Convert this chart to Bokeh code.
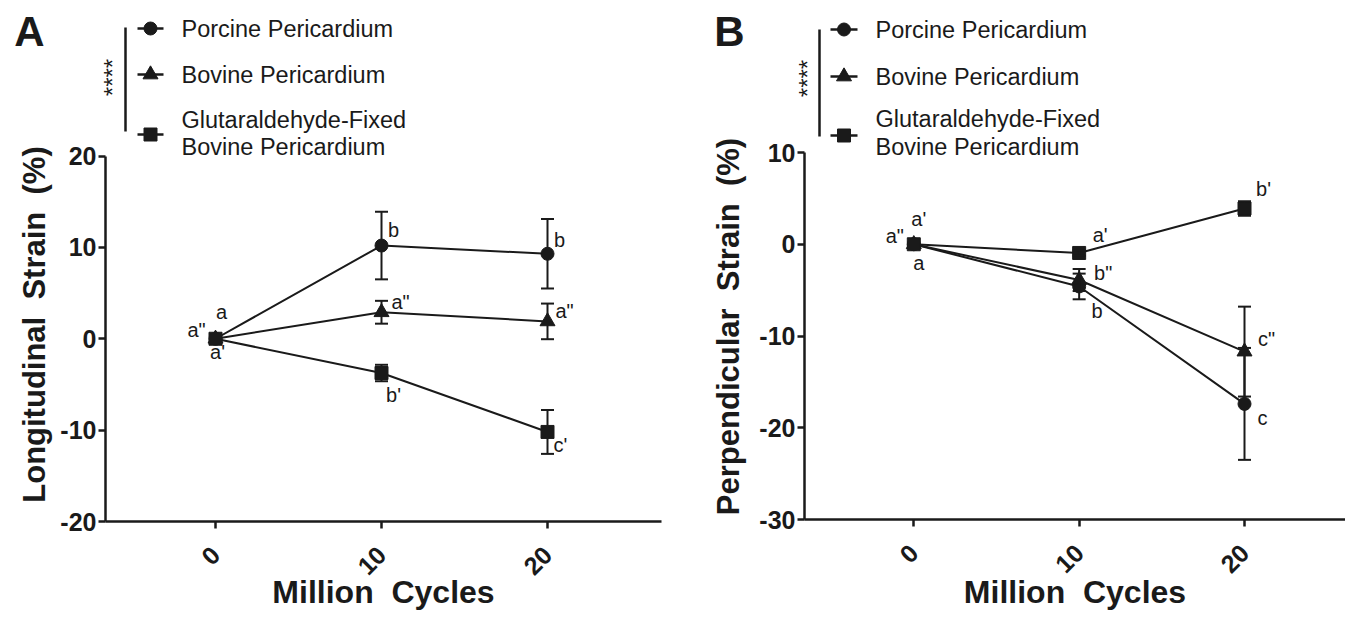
import math
from bokeh.plotting import figure
from bokeh.layouts import row
from bokeh.models import Range1d, FixedTicker, Whisker, TeeHead, ColumnDataSource, PrintfTickFormatter
from bokeh.embed import file_html
from bokeh.resources import INLINE
from bokeh.core.properties import value

# ---------------- data ----------------
cycles = [0, 10, 20]
x_ticks = [0, 10, 20]
series_names = ["Porcine Pericardium", "Bovine Pericardium", "Glutaraldehyde-Fixed", "Bovine Pericardium"]

# Panel A: longitudinal strain (%)
long_porcine = [0.0, 10.2, 9.3]
long_porcine_err = [0.0, 3.7, 3.8]
long_bovine = [0.0, 2.9, 1.9]
long_bovine_err = [0.0, 1.25, 1.95]
long_glut = [0.0, -3.75, -10.2]
long_glut_err = [0.0, 0.9, 2.4]
long_yticks = [-20, -10, 0, 10, 20]

# Panel B: perpendicular strain (%)
perp_porcine = [0.0, -4.6, -17.4]
perp_porcine_err = [0.0, 1.4, 6.1]
perp_bovine = [0.0, -3.9, -11.7]
perp_bovine_err = [0.0, 1.2, 4.9]
perp_glut = [0.0, -0.95, 3.9]
perp_glut_err = [0.0, 0.3, 0.8]
perp_yticks = [-30, -20, -10, 0, 10]

# significance letters: (series, point index, text, dx px, dy px)
long_letters = [
    ("porcine", 0, "a", 6, -27), ("bovine", 0, 'a"', -19, -9), ("glut", 0, "a'", 2, 13),
    ("porcine", 1, "b", 12, -16), ("bovine", 1, 'a"', 19, -10), ("glut", 1, "b'", 12, 22),
    ("porcine", 2, "b", 12, -14), ("bovine", 2, 'a"', 17, -10), ("glut", 2, "c'", 13, 13),
]
perp_letters = [
    ("glut", 0, "a'", 5, -25), ("bovine", 0, 'a"', -19, -8), ("porcine", 0, "a", 5, 19),
    ("glut", 1, "a'", 21, -18), ("bovine", 1, 'b"', 24, -7), ("porcine", 1, "b", 18, 25),
    ("glut", 2, "b'", 19, -19), ("bovine", 2, 'c"', 22, -13), ("porcine", 2, "c", 18, 14),
]

FONT = "Liberation Sans"
INK = "#1a1a1a"
MARKERS = {"porcine": ("circle", 13), "bovine": ("triangle", 15), "glut": ("square", 13)}
H = 611


def make_panel(letter, ytitle, yticks, series, letters, g):
    x0px, xs, y0px, ys = g["x0px"], g["xs"], g["y0px"], g["ys"]
    cx = lambda px: (px - x0px) / xs
    cy = lambda py: (y0px - py) / ys
    pl = g["page_left"]
    p = figure(width=g["width"], height=H, output_backend="svg", toolbar_location=None,
               x_range=Range1d(cx(pl), cx(pl + g["width"])),
               y_range=Range1d(cy(H), cy(0)),
               min_border_left=0, min_border_right=0, min_border_top=0, min_border_bottom=0)
    p.outline_line_color = None
    p.grid.visible = False
    p.background_fill_color = "white"
    p.border_fill_color = "white"

    for ax in (p.xaxis[0], p.yaxis[0]):
        ax.axis_line_width = 2.5
        ax.axis_line_color = INK
        ax.major_tick_line_width = 2.5
        ax.major_tick_line_color = INK
        ax.major_tick_in = 0
        ax.major_tick_out = 7
        ax.minor_tick_line_color = None
        ax.major_label_text_font = FONT
        ax.major_label_text_font_style = "bold"
        ax.major_label_text_font_size = "25px"
        ax.major_label_text_color = INK
        ax.formatter = PrintfTickFormatter(format="%d")
    ymin, ymax = min(yticks), max(yticks)
    p.yaxis.ticker = FixedTicker(ticks=yticks)
    p.yaxis.bounds = (ymin, ymax)
    p.yaxis.fixed_location = cx(g["frame_l"])
    p.yaxis.major_label_standoff = 2
    p.xaxis.ticker = FixedTicker(ticks=x_ticks)
    p.xaxis.bounds = (cx(g["frame_l"]), cx(g["frame_r"]))
    p.xaxis.fixed_location = ymin
    p.xaxis.major_label_orientation = math.pi / 4
    p.xaxis.major_label_standoff = 22

    bold_txt = dict(text_font=value(FONT), text_font_style="bold", text_color=INK,
                    text_align="center", text_baseline="middle")
    # axis titles and panel letter
    p.text(x=[cx(g["ytitle_x"])], y=[cy(g["ytitle_y"])], text=[ytitle], angle=math.pi / 2,
           text_font_size="31px", **bold_txt)
    p.text(x=[(cx(g["frame_l"]) + cx(g["frame_r"])) / 2], y=[cy(g["xtitle_y"])],
           text=["Million\u00a0\u00a0Cycles"], text_font_size="32px", **bold_txt)
    p.text(x=[cx(g["letter_x"])], y=[cy(g["letter_y"])], text=[letter], text_font_size="42px", **bold_txt)

    # letters (behind markers)
    lx, ly, lt, ldx, ldy = [], [], [], [], []
    for key, i, t, dx, dy in letters:
        lx.append(cycles[i]); ly.append(series[key][0][i]); lt.append(t); ldx.append(dx); ldy.append(dy)
    p.text(x=lx, y=ly, text=lt, x_offset=ldx, y_offset=ldy, text_align="center",
           text_baseline="middle", text_font=value(FONT), text_font_size="20px", text_color=INK)

    for key in ("porcine", "bovine", "glut"):
        vals, errs = series[key]
        p.line(cycles, vals, line_width=2, line_color=INK)
        keep = [i for i in range(len(cycles)) if errs[i] > 0]
        src = ColumnDataSource(dict(x=[cycles[i] for i in keep],
                                    up=[vals[i] + errs[i] for i in keep],
                                    lo=[vals[i] - errs[i] for i in keep]))
        w = Whisker(source=src, base="x", upper="up", lower="lo", dimension="height",
                    line_width=2, line_color=INK, level="glyph",
                    upper_head=TeeHead(size=13, line_width=2, line_color=INK),
                    lower_head=TeeHead(size=13, line_width=2, line_color=INK))
        p.add_layout(w)
    for key in ("porcine", "bovine", "glut"):
        vals, errs = series[key]
        mk, sz = MARKERS[key]
        p.scatter(cycles, vals, marker=mk, size=sz, fill_color=INK, line_color=INK)

    # legend block
    lg = g["legend"]
    p.segment(x0=[cx(lg["bar_x"])], y0=[cy(lg["bar_y0"])], x1=[cx(lg["bar_x"])], y1=[cy(lg["bar_y1"])],
              line_width=2.5, line_color=INK)
    p.text(x=[cx(lg["star_x"])], y=[cy(lg["star_y"])], text=["****"], angle=math.pi / 2,
           text_align="center", text_baseline="middle", text_font=value(FONT),
           text_font_size="24px", text_color=INK)
    keys = ["porcine", "bovine", "glut"]
    for key, yy in zip(keys, lg["item_y"]):
        p.segment(x0=[cx(lg["line_x0"])], y0=[cy(yy)], x1=[cx(lg["line_x1"])], y1=[cy(yy)],
                  line_width=2.5, line_color=INK)
        mk, sz = MARKERS[key]
        p.scatter([cx((lg["line_x0"] + lg["line_x1"]) / 2)], [cy(yy)], marker=mk, size=sz,
                  fill_color=INK, line_color=INK)
    ty = [lg["item_y"][0], lg["item_y"][1], lg["glut_y"][0], lg["glut_y"][1]]
    p.text(x=[cx(lg["text_x"])] * 4, y=[cy(v) for v in ty], text=series_names,
           text_align="left", text_baseline="middle", text_font=value(FONT),
           text_font_size="23.5px", text_color=INK)
    return p


geomA = dict(page_left=0, width=690, frame_l=105, frame_r=661,
             x0px=215, xs=16.6, y0px=338.25, ys=9.1375,
             ytitle_x=34, ytitle_y=324, xtitle_y=591, letter_x=29, letter_y=31,
             legend=dict(bar_x=125, bar_y0=27, bar_y1=131, star_x=112, star_y=77,
                         line_x0=137, line_x1=163, item_y=[28, 74, 134], glut_y=[119, 146], text_x=181))
geomB = dict(page_left=690, width=655, frame_l=804, frame_r=1345,
             x0px=913.3, xs=16.535, y0px=243.75, ys=9.175,
             ytitle_x=728, ytitle_y=326, xtitle_y=591, letter_x=729, letter_y=31,
             legend=dict(bar_x=819, bar_y0=29, bar_y1=136, star_x=807, star_y=78,
                         line_x0=830, line_x1=857, item_y=[29, 76, 135], glut_y=[118, 146], text_x=875))

pA = make_panel("A", "Longitudinal\u00a0\u00a0Strain\u00a0\u00a0(%)", long_yticks,
                {"porcine": (long_porcine, long_porcine_err), "bovine": (long_bovine, long_bovine_err),
                 "glut": (long_glut, long_glut_err)}, long_letters, geomA)
pB = make_panel("B", "Perpendicular\u00a0\u00a0Strain\u00a0\u00a0(%)", perp_yticks,
                {"porcine": (perp_porcine, perp_porcine_err), "bovine": (perp_bovine, perp_bovine_err),
                 "glut": (perp_glut, perp_glut_err)}, perp_letters, geomB)

layout = row(pA, pB)
open("out.html", "w").write(file_html(layout, INLINE))
